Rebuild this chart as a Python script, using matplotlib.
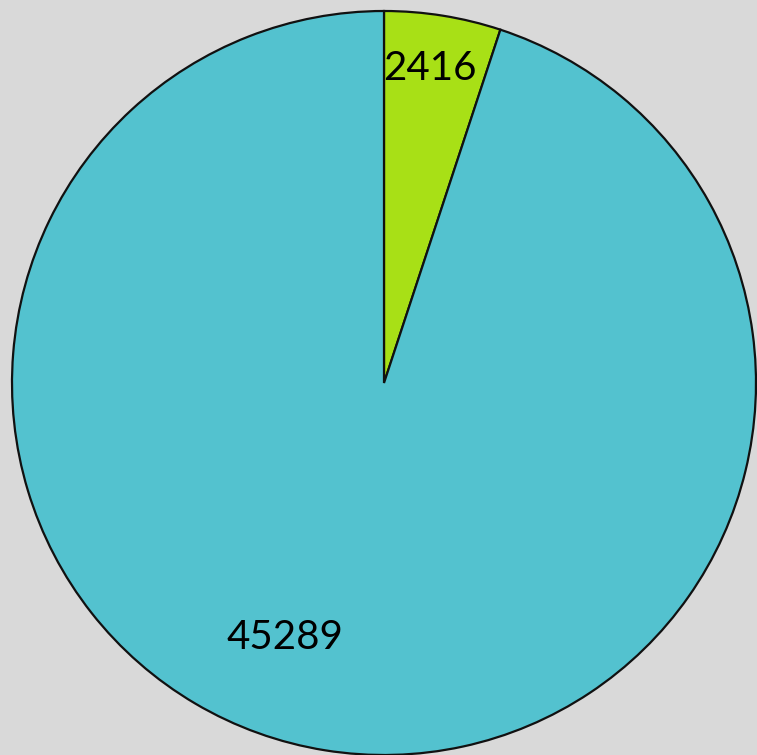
import matplotlib
matplotlib.use("Agg")
import matplotlib.pyplot as plt

categories = ["A", "B"]
values = [2416, 45289]
labels = ["2416", "45289"]
colors = ["#a8e016", "#53c2cf"]

fig = plt.figure(figsize=(7.57, 7.55), dpi=100)
fig.patch.set_facecolor("#d9d9d9")
ax = fig.add_axes([12 / 757, 0.0, 744 / 757, 744 / 755])
ax.set_facecolor("none")

wedges, texts = ax.pie(
    values,
    colors=colors,
    startangle=90,
    counterclock=False,
    radius=1.0,
    labels=labels,
    labeldistance=0.85,
    wedgeprops=dict(edgecolor="#111111", linewidth=1.6),
    textprops=dict(fontsize=29, color="black", family="Lato"),
    frame=False,
)
for t in texts:
    t.set_ha("center")
    t.set_va("center")
texts[0].set_position((0.122, 0.845))
texts[1].set_position((-0.265, -0.685))

ax.set_xlim(-1, 1)
ax.set_ylim(-1, 1)
ax.set_aspect("auto")
ax.axis("off")

fig.savefig("out.png", dpi=100, facecolor=fig.get_facecolor())
